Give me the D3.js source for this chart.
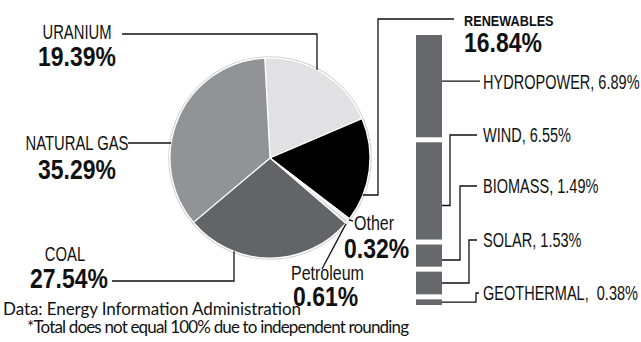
<!DOCTYPE html>
<html>
<head>
<meta charset="utf-8">
<script src="https://cdn.jsdelivr.net/npm/d3@7/dist/d3.min.js"></script>
<style>
  html, body { margin: 0; padding: 0; background: #fff; }
  svg { display: block; }
  .cond { font-family: "Liberation Sans", Arial, sans-serif; }
  .foot { font-family: Lato, "Open Sans", sans-serif; }
</style>
</head>
<body>
<svg id="chart" width="641" height="342"></svg>
<script>
// Electricity generation by source, percent of total
const sources = ["URANIUM", "RENEWABLES", "Other", "Petroleum", "COAL", "NATURAL GAS"];
const shares = [19.39, 16.84, 0.32, 0.61, 27.54, 35.29];

// Breakdown of the renewables share
const renewableSources = ["HYDROPOWER", "WIND", "BIOMASS", "SOLAR", "GEOTHERMAL"];
const renewableShares = [6.89, 6.55, 1.49, 1.53, 0.38];

const footNotes = [
  "Data: Energy Information Administration",
  "*Total does not equal 100% due to independent rounding"
];

const fmt = v => v.toFixed(2) + "%";

const svg = d3.select("#chart");
const cx = 270, cy = 158, R = 100;
const fills = {
  "URANIUM": "#e1e1e3",
  "RENEWABLES": "#000000",
  "Other": "#dadadc",
  "Petroleum": "#dadadc",
  "COAL": "#636467",
  "NATURAL GAS": "#929396"
};

const startA = -3 * Math.PI / 180;
const pie = d3.pie().sort(null).value(d => d.v)
  .startAngle(startA).endAngle(startA + 2 * Math.PI);
const arcs = pie(sources.map((s, i) => ({ s, v: shares[i] })));
const arc = d3.arc().innerRadius(0).outerRadius(R);

const pg = svg.append("g").attr("transform", `translate(${cx},${cy})`);
pg.append("circle").attr("r", R + 1.2).attr("fill", "none")
  .attr("stroke", "#d4d4d6").attr("stroke-width", 1.2);
pg.selectAll("path.slice").data(arcs).join("path")
  .attr("class", "slice")
  .attr("d", arc)
  .attr("fill", d => fills[d.data.s])
  .attr("stroke", "#fff").attr("stroke-width", 1.2)
  .attr("stroke-linejoin", "round");

const bySource = Object.fromEntries(arcs.map(a => [a.data.s, a]));
const edgePoint = (a, t) => {
  const ang = a.startAngle + (a.endAngle - a.startAngle) * t;
  return [cx + R * Math.sin(ang), cy - R * Math.cos(ang)];
};
const edgeYatX = (x, sign) => cy + sign * Math.sqrt(R * R - (x - cx) ** 2);
const edgeXatY = (y, sign) => cx + sign * Math.sqrt(R * R - (y - cy) ** 2);

const lines = svg.append("g").attr("fill", "none").attr("stroke", "#111").attr("stroke-width", 1.3);
const line = d3.line();

// Uranium leader: across the top, then down to the rim
lines.append("path").attr("d", line([[122, 34], [317, 34], [317, edgeYatX(317, -1)]]));
// Natural gas leader
lines.append("path").attr("d", line([[128, 143], [edgeXatY(143, -1), 143]]));
// Coal leader
lines.append("path").attr("d", line([[112, 281], [234, 281], [234, edgeYatX(234, 1)]]));
// Renewables leader
lines.append("path").attr("d", line([[454, 19], [378, 19], [378, 195], [edgeXatY(195, 1), 195]]));
// Other leader
const pOther = edgePoint(bySource["Other"], 0.5);
lines.append("path").attr("d", line([pOther, [353, pOther[1] + 1.5]]));
// Petroleum leader
const pPet = edgePoint(bySource["Petroleum"], 0.5);
lines.append("path").attr("d", line([[pPet[0] - 1, pPet[1] + 2], [322, 269]]));

// Condensed labels: a regular face squeezed horizontally
const txt = svg.append("g").attr("class", "cond").attr("fill", "#111");
function label(x, y, text, size, weight, anchor, squeeze) {
  return txt.append("text")
    .attr("transform", `translate(${x},${y}) scale(${squeeze},1)`)
    .attr("font-size", size).attr("font-weight", weight)
    .attr("text-anchor", anchor)
    .attr("xml:space", "preserve").style("white-space", "pre")
    .text(text);
}
const name = (x, y, t, anchor) => label(x, y, t, 19.5, "normal", anchor || "start", 0.76);
const mixed = (x, y, t) => label(x, y, t, 19.5, "normal", "start", 0.82);
const value = (x, y, t, anchor) => label(x, y, t, 28, "bold", anchor || "start", 0.82);
const pct = s => fmt(shares[sources.indexOf(s)]);

name(77, 39, "URANIUM", "middle");
value(77, 66, pct("URANIUM"), "middle");
name(77, 150, "NATURAL GAS", "middle");
value(77, 179, pct("NATURAL GAS"), "middle");
name(65, 261, "COAL", "middle");
value(69, 288, pct("COAL"), "middle");
mixed(354, 230, sources[2]);
value(344, 258, pct("Other"));
mixed(291, 280, sources[3]);
value(293, 306, pct("Petroleum"));
label(464, 26, "RENEWABLES", 15.5, "bold", "start", 0.82);
value(464, 52, pct("RENEWABLES"));

// Renewables stacked column
const barX = 416, barW = 26, barTop = 35, barBottom = 305, gap = 5;
const totalRen = d3.sum(renewableShares);
const h = d3.scaleLinear().domain([0, totalRen])
  .range([0, barBottom - barTop - gap * (renewableShares.length - 1)]);
let yAcc = barTop;
const bars = renewableShares.map((v, i) => {
  const b = { name: renewableSources[i], v, y: yAcc, h: h(v) };
  yAcc += h(v) + gap;
  return b;
});
svg.append("g").selectAll("rect").data(bars).join("rect")
  .attr("x", barX).attr("y", d => d.y).attr("width", barW).attr("height", d => d.h)
  .attr("fill", "#67686b");

// Leaders from each block to its label
const right = barX + barW;
const labelY = [82, 135, 186, 240, 293];
const elbowX = [null, 450, 460, 469, 476];
const anchorT = [0.45, 0.65, 0.7, 0.5, 0.5];
bars.forEach((b, i) => {
  const ay = b.y + b.h * anchorT[i];
  let pts;
  if (i === 0) pts = [[right, ay], [480, ay]];
  else if (i === 4) pts = [[right, ay], [elbowX[i], ay], [elbowX[i], labelY[i]], [479, labelY[i]]];
  else pts = [[right, ay], [elbowX[i], ay], [elbowX[i], labelY[i]], [477, labelY[i]]];
  lines.append("path").attr("d", line(pts));
});
const labelSep = [", ", ", ", ", ", ", ", ",  "];
bars.forEach((b, i) => {
  label(483, labelY[i] + 7, b.name + labelSep[i] + fmt(b.v), 19.5, "normal", "start", 0.745);
});

// Source notes
const ft = svg.append("g").attr("class", "foot").attr("fill", "#111").attr("font-size", 17);
ft.append("text").attr("x", 3).attr("y", 315).attr("textLength", 298).text(footNotes[0]);
ft.append("text").attr("x", 27).attr("y", 333).attr("textLength", 382).text(footNotes[1]);
</script>
</body>
</html>
